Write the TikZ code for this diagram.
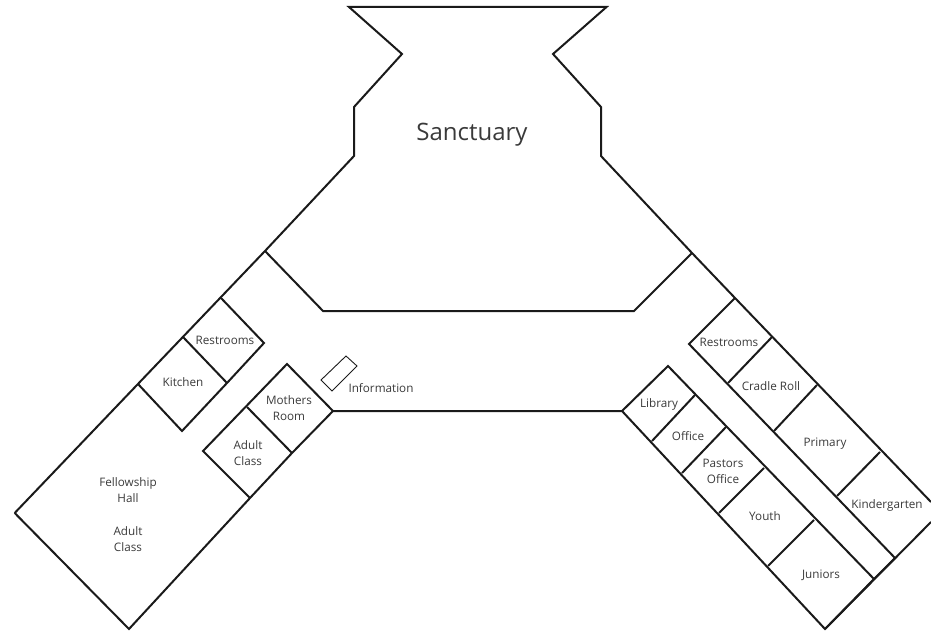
\documentclass[tikz,border=0pt]{standalone}
\usepackage{fontspec}
\setmainfont{Open Sans}
\definecolor{wall}{HTML}{1A1A1A}
\definecolor{lab}{HTML}{3A3A3A}
\tikzset{
  wallline/.style={draw=wall,line width=2pt,line join=miter,line cap=butt},
  infobox/.style={draw=wall,line width=0.9pt},
  room/.style={text=lab,font=\fontsize{11.7}{16}\selectfont,align=center,inner sep=0pt},
  bigroom/.style={text=lab,font=\fontsize{24}{28}\selectfont,inner sep=0pt}
}
\begin{document}
\begin{tikzpicture}[x=1pt,y=-1pt]
\useasboundingbox (0,0) rectangle (931,631);
\clip (0,0) rectangle (931,631);
% outer walls, top
\draw[wallline] (14.7,513) -- (265,251) -- (354,156) -- (354,107) -- (402,54) -- (349,7) -- (606.5,7) -- (553,54) -- (601,107) -- (601,156) -- (692,253) -- (735,298) -- (931,502);
% sanctuary south wall
\draw[wallline] (265,251) -- (323,311) -- (634,311) -- (692,253);
% west wing
\draw[wallline] (14.7,513) -- (129,629) -- (250,498) -- (292,453) -- (333,411) -- (622,411) -- (825,629) -- (931,522);
\draw[wallline] (221,298) -- (264,343) -- (227,383) -- (182,431) -- (138,384);
\draw[wallline] (183,337) -- (227,383);
\draw[wallline] (333,411) -- (287,364) -- (203,451) -- (250,498);
\draw[wallline] (247,407) -- (292,453);
\draw[infobox] (346,356) -- (357,366) -- (332,391) -- (321,380) -- cycle;
% east wing
\draw[wallline] (735,298) -- (689,344) -- (895,558) -- (874,579);
\draw[wallline] (772,337) -- (728,383);
\draw[wallline] (817,385) -- (774,431);
\draw[wallline] (880,452) -- (837,496);
\draw[wallline] (622,411) -- (668,366) -- (874,579) -- (825,629);
\draw[wallline] (695,395) -- (652,441);
\draw[wallline] (726,427) -- (682,473);
\draw[wallline] (764,468) -- (719,513);
\draw[wallline] (814,520) -- (768,566);
% labels
\node[bigroom] (sanctuary) at (472,135) {Sanctuary};
\node[room] (restw) at (225,340) {Restrooms};
\node[room] (kitchen) at (183,382) {Kitchen};
\node[room] (mothers) at (289,408.5) {Mothers\\Room};
\node[room] (adultb) at (248,453) {Adult\\Class};
\node[room] (fellow) at (128,490) {Fellowship\\Hall};
\node[room] (adulta) at (128,539) {Adult\\Class};
\node[room] (info) at (381,388) {Information};
\node[room] (reste) at (729,342) {Restrooms};
\node[room] (cradle) at (771,386) {Cradle Roll};
\node[room] (primary) at (825,444) {Primary};
\node[room] (kinder) at (887,505) {Kindergarten};
\node[room] (library) at (659,404) {Library};
\node[room] (office) at (688,436) {Office};
\node[room] (pastors) at (723,471) {Pastors\\Office};
\node[room] (youth) at (765,516.5) {Youth};
\node[room] (juniors) at (821,575) {Juniors};
\end{tikzpicture}
\end{document}
